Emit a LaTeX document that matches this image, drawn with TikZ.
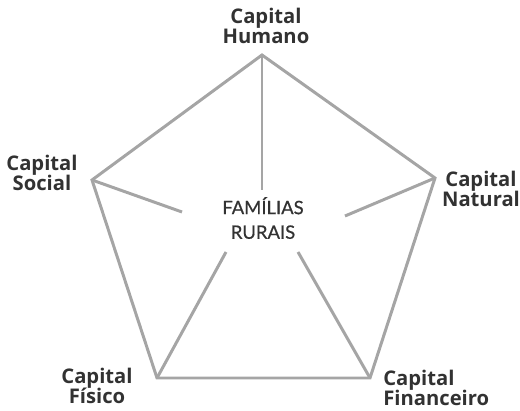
\documentclass[tikz,border=0pt]{standalone}
\usepackage{fontspec}
\setmainfont{Open Sans}
\newfontfamily\centrefont[FakeBold=0.6]{Lato}
\usetikzlibrary{positioning}

\definecolor{edgegray}{RGB}{165,165,165}
\definecolor{labelgray}{RGB}{50,50,50}

\begin{document}
\begin{tikzpicture}[
    x=0.02cm, y=-0.02cm,
    side/.style={draw=edgegray, line width=1.7pt, line join=miter},
    spoke/.style={draw=edgegray, line width=1.7pt},
    capital/.style={text=labelgray, align=center, inner sep=0pt,
        font=\bfseries\fontsize{11.5}{11.8}\selectfont},
    hub/.style={text=labelgray, align=center, inner sep=0pt,
        font=\centrefont\fontsize{10.5}{14}\selectfont}
]
    \useasboundingbox (0,0) rectangle (520,411);

    % Pentagon corners
    \coordinate (humano) at (262,55);
    \coordinate (natural) at (435,178);
    \coordinate (financeiro) at (370,378);
    \coordinate (fisico) at (157,378);
    \coordinate (social) at (92,180);

    % Inner ends of the spokes
    \coordinate (humanoEnd) at (262,190);
    \coordinate (naturalEnd) at (345,216);
    \coordinate (financeiroEnd) at (298,252);
    \coordinate (fisicoEnd) at (226,252);
    \coordinate (socialEnd) at (182,212);

    % Outline and spokes
    \draw[side] (humano) -- (natural) -- (financeiro) -- (fisico) -- (social) -- cycle;
    \foreach \c in {humano, natural, financeiro, fisico, social}
        \draw[spoke] (\c) -- (\c End);

    % Centre text
    \node[hub] (familias) at (263,218) {FAMÍLIAS\\RURAIS};

    % Corner labels
    \node[capital] (lblHumano) at (266,26) {Capital\\Humano};
    \node[capital] (lblSocial) at (42,173) {Capital\\Social};
    \node[capital] (lblNatural) at (481,189) {Capital\\Natural};
    \node[capital] (lblFisico) at (97,386) {Capital\\Físico};
    \node[capital, align=left, anchor=west] (lblFinanceiro) at (383,388) {Capital\\Financeiro};

\end{tikzpicture}
\end{document}
